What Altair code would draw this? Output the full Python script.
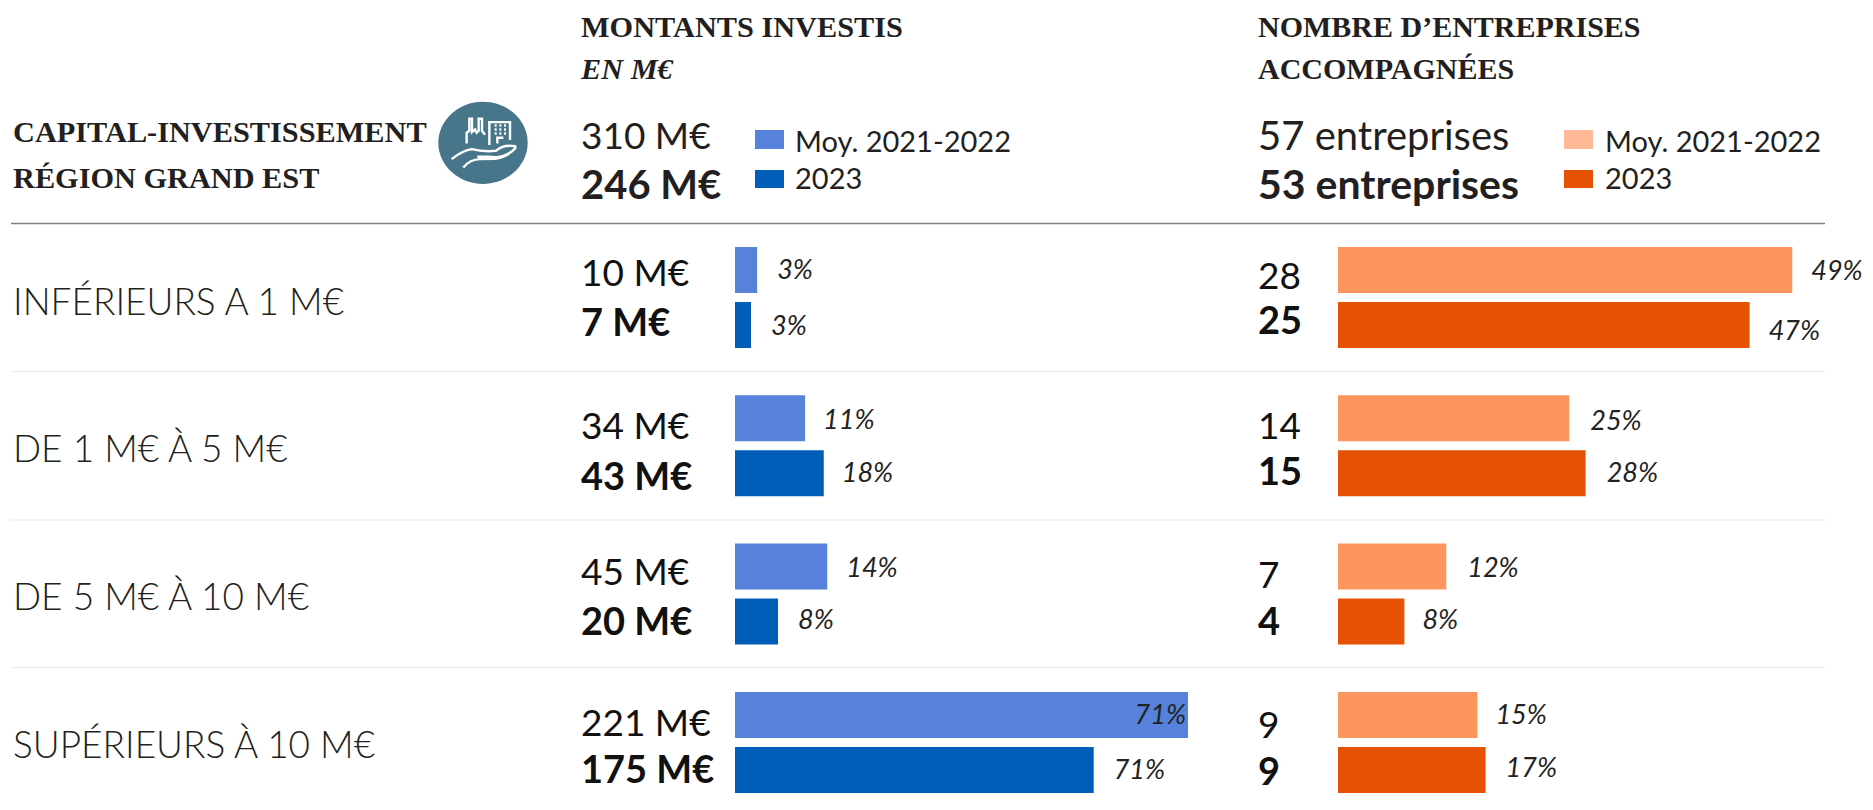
import re
import altair as alt
import pandas as pd

# ---- data ----
rows = ["INFÉRIEURS A 1 M€", "DE 1 M€ À 5 M€", "DE 5 M€ À 10 M€", "SUPÉRIEURS À 10 M€"]
series = ["Moy. 2021-2022", "2023"]

invest_labels_avg = ["10 M€", "34 M€", "45 M€", "221 M€"]
invest_labels_2023 = ["7 M€", "43 M€", "20 M€", "175 M€"]
invest_bar_avg = [10.8, 34.2, 45, 221]
invest_bar_2023 = [7.8, 43.3, 21, 175]
invest_pct_avg = ["3%", "11%", "14%", "71%"]
invest_pct_2023 = ["3%", "18%", "8%", "71%"]

firms_labels_avg = ["28", "14", "7", "9"]
firms_labels_2023 = ["25", "15", "4", "9"]
firms_bar_avg = [27.7, 14.1, 6.6, 8.5]
firms_bar_2023 = [25.1, 15.1, 4.05, 9]
firms_pct_avg = ["49%", "25%", "12%", "15%"]
firms_pct_2023 = ["47%", "28%", "8%", "17%"]

# ---- style ----
SANS = "Lato"
SERIF = "Liberation Serif"
INK = "#231F20"
BLUE = ["#5682DB", "#005EB8"]
ORANGE = ["#FD955F", "#E55204"]
ORANGE_KEY = "#FFB997"

y_enc = alt.Y("row:N", axis=None, sort=rows,
              scale=alt.Scale(domain=rows, range=[215.4, 808.6], paddingInner=0, paddingOuter=0))
off_enc = alt.YOffset("series:N", sort=series,
                      scale=alt.Scale(domain=series, range=[23.6, 124.6], paddingInner=0.1636, paddingOuter=0))
x_inv = alt.X("v:Q", axis=None, scale=alt.Scale(domain=[0, 221], range=[727, 1180]))
x_firm = alt.X("v:Q", axis=None, scale=alt.Scale(domain=[0, 28], range=[1330, 1789.2]))


def table(bars, labels, pct):
    out = []
    for j, s in enumerate(series):
        for i, r in enumerate(rows):
            out.append({"row": r, "series": s, "v": bars[j][i], "label": labels[j][i], "pct": pct[j][i]})
    return pd.DataFrame(out)


inv = table([invest_bar_avg, invest_bar_2023], [invest_labels_avg, invest_labels_2023], [invest_pct_avg, invest_pct_2023])
firm = table([firms_bar_avg, firms_bar_2023], [firms_labels_avg, firms_labels_2023], [firms_pct_avg, firms_pct_2023])

layers = []


def ann(text, x, y, font=SANS, size=30, weight="normal", style="normal", color=INK, align="left"):
    d = pd.DataFrame({"t": [text]})
    layers.append(alt.Chart(d).mark_text(font=font, fontSize=size, fontWeight=weight, fontStyle=style,
                                         color=color, align=align, baseline="middle")
                  .encode(x=alt.value(x - 8), y=alt.value(y - 8), text="t:N"))


def hrule(y, x0, x1, color, w):
    d = pd.DataFrame({"a": [0]})
    layers.append(alt.Chart(d).mark_rule(color=color, strokeWidth=w)
                  .encode(x=alt.value(x0 - 8), x2=alt.value(x1 - 8), y=alt.value(y - 8)))


def key(x0, x1, y0, y1, color):
    d = pd.DataFrame({"a": [0]})
    layers.append(alt.Chart(d).mark_rect(color=color)
                  .encode(x=alt.value(x0 - 8), x2=alt.value(x1 - 8), y=alt.value(y0 - 8), y2=alt.value(y1 - 8)))


# rules
hrule(223.5, 11, 1825, "#808080", 1.5)
for yy in [371.7, 520, 667.7]:
    hrule(yy, 11, 1825, "#E8E8E8", 1.2)

# bars
for df, xenc, cols in [(inv, x_inv, BLUE), (firm, x_firm, ORANGE)]:
    layers.append(alt.Chart(df).mark_bar(cornerRadius=0).encode(
        x=xenc, y=y_enc, yOffset=off_enc,
        color=alt.Color("series:N", legend=None, scale=alt.Scale(domain=series, range=cols))))

# row labels
row_dy = [6, 5, 5, 5]
row_df = pd.DataFrame({"row": rows})
for i, r in enumerate(rows):
    layers.append(alt.Chart(row_df[row_df.row == r]).mark_text(
        font=SANS, fontSize=37, fontWeight=300, color=INK, align="left", baseline="middle", dy=row_dy[i])
        .encode(x=alt.value(5), y=y_enc, text="row:N"))

# value labels and percentages: small individual nudges as in the original layout
lab_dy = {
    "inv": [[5, 10, 7, 10], [0, 6, 2, 2]],
    "firm": [[8, 10, 10, 12], [-2, 1, 2, 4]],
}
pct_dy = {
    "inv": [[1, 3, 2, 1], [2, 1, -1, 1]],
    "firm": [[2, 4, 2, 1], [7, 1, -1, -1]],
}
pct_dx = {
    "inv": [[20, 18, 19, -2], [20, 18, 20, 20]],
    "firm": [[19, 21, 21, 18], [19, 21, 18, 20]],
}
for name, df, xenc, xlab in [("inv", inv, x_inv, 573), ("firm", firm, x_firm, 1250)]:
    for j, s in enumerate(series):
        for i, r in enumerate(rows):
            rec = df[(df.row == r) & (df.series == s)]
            layers.append(alt.Chart(rec).mark_text(
                font=SANS, fontSize=38 if j else 37, fontWeight="bold" if j else "normal", color="#111111",
                align="left", baseline="middle", dy=lab_dy[name][j][i])
                .encode(x=alt.value(xlab), y=y_enc, yOffset=off_enc, text="label:N"))
            dx = pct_dx[name][j][i]
            layers.append(alt.Chart(rec).mark_text(
                font=SANS, fontSize=27, fontStyle="italic", color="#222222",
                align="right" if dx < 0 else "left", baseline="middle", dx=dx, dy=pct_dy[name][j][i])
                .encode(x=xenc, y=y_enc, yOffset=off_enc, text="pct:N"))

# header block
ann("MONTANTS INVESTIS", 581, 28, SERIF, 30.3, "bold")
ann("EN M€", 581, 70, SERIF, 30.3, "bold", "italic")
ann("NOMBRE D’ENTREPRISES", 1258, 28, SERIF, 30, "bold")
ann("ACCOMPAGNÉES", 1258, 70, SERIF, 30, "bold")
ann("CAPITAL-INVESTISSEMENT", 13, 133, SERIF, 30.3, "bold")
ann("RÉGION GRAND EST", 13, 179, SERIF, 30.3, "bold")

ann("310 M€", 581, 138, size=37)
ann("246 M€", 581, 187, size=40, weight="bold")
ann("57 entreprises", 1258, 138, size=40)
ann("53 entreprises", 1258, 187, size=41, weight="bold")

key(755, 784, 130, 149, BLUE[0])
key(755, 784, 170, 188, BLUE[1])
ann("Moy. 2021-2022", 795, 143, size=29)
ann("2023", 795, 180, size=29)
key(1564, 1593, 130, 149, ORANGE_KEY)
key(1564, 1593, 170, 188, ORANGE[1])
ann("Moy. 2021-2022", 1605, 143, size=29)
ann("2023", 1605, 180, size=29)

# round badge with a small hand-and-building pictogram
U = 134.0


def nx(m):
    return f"{(float(m.group(1)) - 189) / U:.3f},{(float(m.group(2)) - 158) / U:.3f}"


def norm(path):
    return re.sub(r"(-?[\d.]+),(-?[\d.]+)", nx, path)


badge_shape = "M-1,0 A1,0.92 0 1,1 1,0 A1,0.92 0 1,1 -1,0 Z"
icon_path = norm(
    "M140,160 L140,128 L148,122 L148,86 L156,86 L156,126 L165,118 L170,128 L176,122 L176,86 L186,86 L186,122 L195,134 "
    "M208,165 L208,96 L270,96 L270,150 "
    "M232,160 L232,143 L250,143 "
    "M224,106 L230,106 M238,106 L244,106 M252,106 L258,106 "
    "M224,118 L230,118 M238,118 L244,118 M252,118 L258,118 "
    "M224,130 L230,130 M238,130 L244,130 M252,130 L258,130 "
    "M95,207 Q125,182 155,177 Q190,186 228,182 Q250,162 285,168 Q292,175 262,192 Q240,205 205,200 L172,200 "
    "M130,232 Q150,208 180,207 L225,206 Q265,200 287,172"
)
m = pd.DataFrame({"a": [0]})
layers.append(alt.Chart(m).mark_point(shape=badge_shape, filled=True, fill="#47758A", opacity=1, stroke=None, size=7992)
              .encode(x=alt.value(475), y=alt.value(134.8)))
layers.append(alt.Chart(m).mark_point(shape=icon_path, filled=False, stroke="#FFFFFF", opacity=1, strokeWidth=2.4, size=7992)
              .encode(x=alt.value(475), y=alt.value(134.8)))

chart = (alt.layer(*layers)
         .resolve_scale(x="independent", color="independent")
         .properties(width=1857, height=794, padding=0, background="#FFFFFF",
                     autosize=alt.AutoSizeParams(type="none"))
         .configure_view(stroke=None))

chart.save("out.html", embed_options={"renderer": "svg", "actions": False})
